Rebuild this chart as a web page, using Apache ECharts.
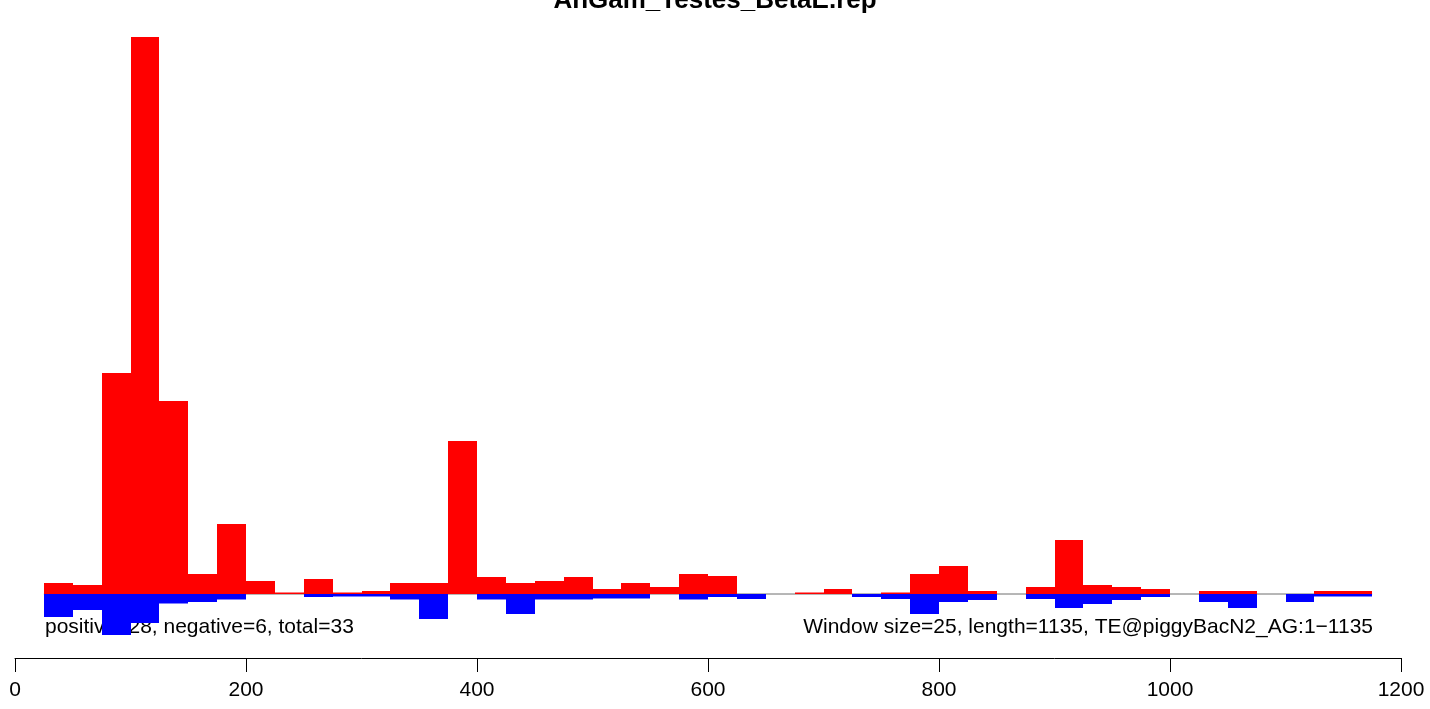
<!DOCTYPE html>
<html>
<head>
<meta charset="utf-8">
<script src="https://cdn.jsdelivr.net/npm/echarts@6/dist/echarts.min.js"></script>
<style>
html,body{margin:0;padding:0;background:#fff;}
#chart{width:1430px;height:709px;}
</style>
</head>
<body>
<div id="chart"></div>
<script>
var titleText = 'AnGam_Testes_BetaE.rep';
var leftNote = 'positive=28, negative=6, total=33';
var rightNote = 'Window size=25, length=1135, TE@piggyBacN2_AG:1\u22121135';
var windowSize = 25;
var binStart = [25,50,75,100,125,150,175,200,225,250,275,300,325,350,375,400,425,450,475,500,
  525,550,575,600,625,650,675,700,725,750,775,800,825,850,875,900,925,950,975,1000,
  1025,1050,1075,1100,1125,1150];
var positiveVals = [11,9,221,557,193,20,70,13,1.5,15,1.5,3,11,11,153,17,11,13,17,5,
  11,7,20,18,0,0,1.5,5,0,1.5,20,28,3,0,7,54,9,7,5,0,
  3,3,0,0,3,3];
var negativeVals = [-23,-16,-41,-29,-9.5,-8,-5.5,0,0,-3,-2.5,-2.5,-5.5,-25,0,-5.5,-20,-5.5,-5.5,-4.5,
  -4.5,0,-5.5,-3,-5,0,0,0,-3,-5,-20,-8,-6,0,-5,-14,-10,-6,-3,0,
  -8,-14,0,-8,-2.5,-2.5];
var xTicks = [0,200,400,600,800,1000,1200];

function makeRender(color){
  return function(params, api){
    var x0 = api.value(0), v = api.value(1);
    if (!v) return null;
    var a = api.coord([x0, v]);
    var b = api.coord([x0 + windowSize, 0]);
    var xl = Math.round(a[0]), xr = Math.round(b[0]);
    return {
      type:'rect',
      shape:{x:xl, y:Math.min(a[1],b[1]), width:xr-xl, height:Math.abs(b[1]-a[1])},
      style:{fill:color, stroke:null, lineWidth:0}
    };
  };
}

var chart = echarts.init(document.getElementById('chart'), null, {renderer:'canvas'});
var font = '"Liberation Sans", Arial, Helvetica, sans-serif';
chart.setOption({
  animation:false,
  backgroundColor:'#ffffff',
  grid:{left:15, right:29, top:37, bottom:51, containLabel:false},
  xAxis:{
    type:'value', min:xTicks[0], max:xTicks[xTicks.length-1], interval:200,
    position:'bottom',
    axisLine:{show:true, onZero:false, lineStyle:{color:'#000', width:1}},
    axisTick:{show:true, length:14, lineStyle:{color:'#000', width:1}},
    axisLabel:{show:true, margin:22, color:'#000', fontSize:21, fontFamily:font,
      formatter:function(v){return String(v);}},
    splitLine:{show:false}
  },
  yAxis:{
    type:'value', min:-64, max:557, show:false, splitLine:{show:false}
  },
  graphic:[
    {type:'text', left:'center', x:0, top:-12, style:{text:titleText, font:'bold 26px ' + font, fill:'#000'}},
    {type:'text', x:45, y:627, style:{text:leftNote, fontSize:21, fontFamily:font, fill:'#000', align:'left', verticalAlign:'middle'}},
    {type:'text', x:1373, y:627, style:{text:rightNote, fontSize:21, fontFamily:font, fill:'#000', align:'right', verticalAlign:'middle'}}
  ],
  series:[
    {type:'line', data:[[binStart[0],0],[binStart[binStart.length-1]+windowSize,0]], symbol:'none', silent:true,
      lineStyle:{color:'#6e6e6e', width:1}, z:1},
    {type:'custom', renderItem:makeRender('#ff0000'), data:binStart.map(function(s,i){return [s, positiveVals[i]];}), z:2},
    {type:'custom', renderItem:makeRender('#0000ff'), data:binStart.map(function(s,i){return [s, negativeVals[i]];}), z:3}
  ]
});
</script>
</body>
</html>
